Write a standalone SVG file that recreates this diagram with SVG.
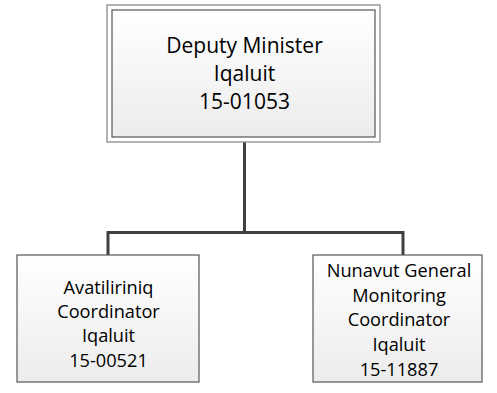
<svg xmlns="http://www.w3.org/2000/svg" width="497" height="393" viewBox="0 0 497 393">
<defs>
<linearGradient id="g" x1="0" y1="0" x2="0" y2="1">
<stop offset="0" stop-color="#ffffff"/>
<stop offset="1" stop-color="#ececec"/>
</linearGradient>
<style>
.t{font-family:"Open Sans","Liberation Sans",sans-serif;fill:#000;text-anchor:middle}
.top{font-size:21px}
.sm{font-size:18.2px}
.box{fill:url(#g);stroke:#555;stroke-width:1.2}
.outer{fill:none;stroke:#8a8a8a;stroke-width:1.3}
.conn{fill:none;stroke:#404040;stroke-width:3}
</style>
</defs>
<rect width="497" height="393" fill="#fff"/>
<g id="connectors">
<path class="conn" d="M244.5 142 V232.5 M108 255 V232.5 H403 V255"/>
</g>
<g id="deputy-minister">
<rect class="outer" x="107" y="5" width="273" height="137"/>
<rect class="box" x="112" y="10" width="263" height="127"/>
<text class="t top" x="244.5" y="53">Deputy Minister</text>
<text class="t top" x="244.5" y="81">Iqaluit</text>
<text class="t top" x="244.5" y="109">15-01053</text>
</g>
<g id="avatiliriniq-coordinator">
<rect class="box" x="17" y="255" width="182" height="127"/>
<text class="t sm" x="108.5" y="294">Avatiliriniq</text>
<text class="t sm" x="108.5" y="318">Coordinator</text>
<text class="t sm" x="108.5" y="342">Iqaluit</text>
<text class="t sm" x="108.5" y="367">15-00521</text>
</g>
<g id="nunavut-general-monitoring-coordinator">
<rect class="box" x="313" y="255" width="169" height="127"/>
<text class="t sm" x="399" y="277">Nunavut General</text>
<text class="t sm" x="399" y="302">Monitoring</text>
<text class="t sm" x="399" y="326">Coordinator</text>
<text class="t sm" x="399" y="351">Iqaluit</text>
<text class="t sm" x="399" y="376">15-11887</text>
</g>
</svg>
